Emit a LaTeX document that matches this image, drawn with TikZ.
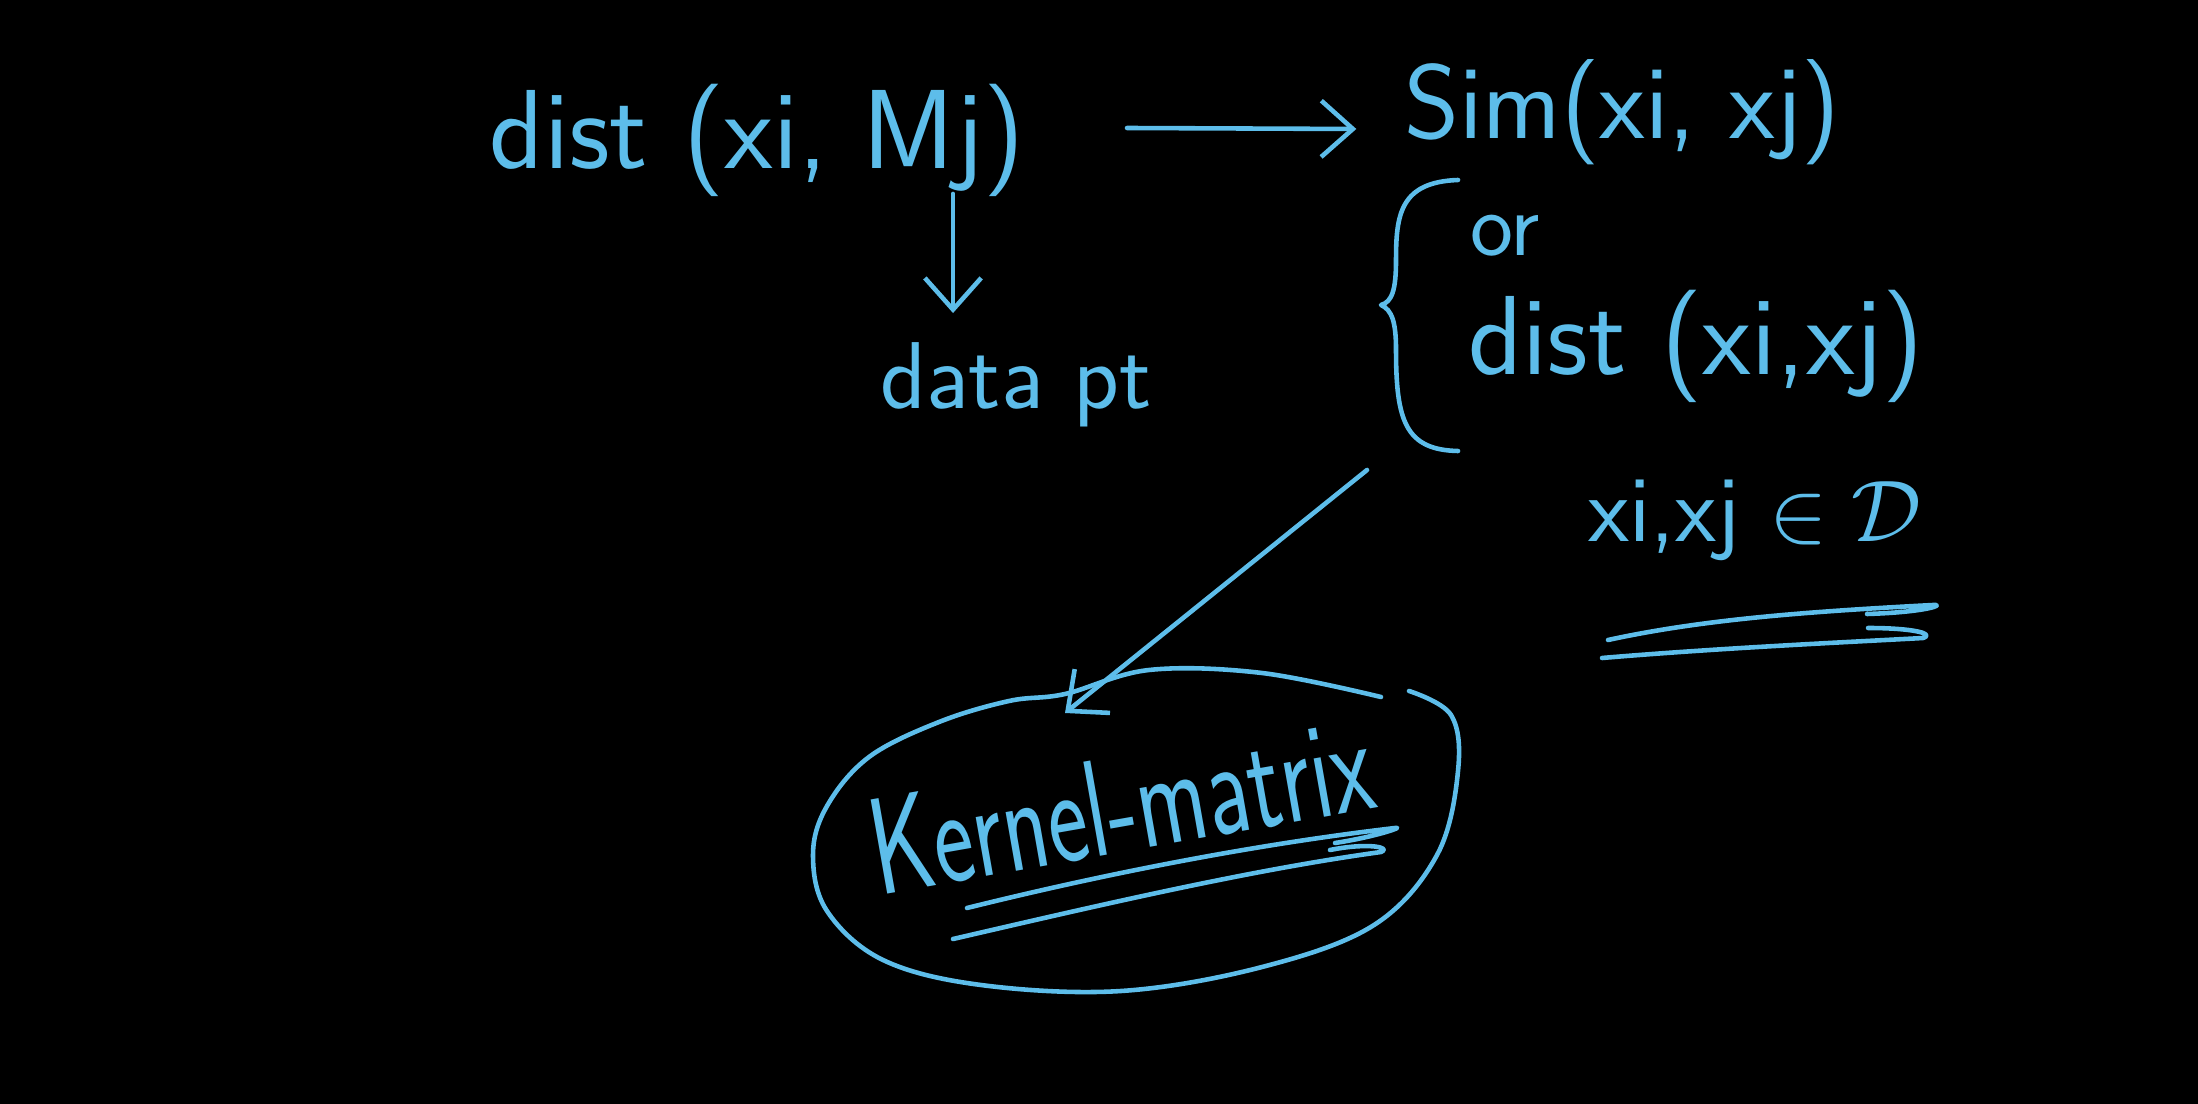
\documentclass[tikz,border=0pt]{standalone}
\usetikzlibrary{arrows.meta,calc}
\definecolor{chalk}{HTML}{5DBDEA}
\begin{document}
\begin{tikzpicture}[x=0.01cm,y=-0.01cm,
  ink/.style={draw=chalk,line width=1.3pt,line cap=round,line join=round},
  arr/.style={ink,-{Straight Barb[length=9pt,width=16pt]}},
  txt/.style={text=chalk,inner sep=2pt,font=\sffamily},
  f32/.style={font=\sffamily\fontsize{32}{38}\selectfont},
  f30/.style={font=\sffamily\fontsize{30}{36}\selectfont},
  f27/.style={font=\sffamily\fontsize{27}{32}\selectfont},
  f26/.style={font=\sffamily\fontsize{26}{31}\selectfont}]
\fill[black] (0,0) rectangle (2198,1104);
\useasboundingbox (0,0) rectangle (2198,1104);

\node[txt,f32] (d1) at (757,140) {dist (xi, Mj)};
\node[txt,f30] (sim) at (1622,112) {Sim(xi, xj)};
\node[txt,f27] (dp) at (1016,385) {data pt};
\node[txt,f26] (or) at (1505,236) {or};
\node[txt,f32] (d2) at (1696,346) {dist (xi,xj)};
\node[txt,f27] (set) at (1755,520) {xi,xj $\in\mathcal{D}$};
\node[txt,f27,rotate=10,yscale=1.45] (km) at (1121,805) {Kernel-matrix};

% connectors
\draw[arr] ($(d1.east)+(95,-12)$) -- ($(sim.west)+(-40,17)$);
\draw[arr] ($(d1.south)+(196,-10)$) -- ($(dp.north)+(-63,-22)$);
\coordinate (ls) at (1367,470);
\draw[arr] (ls) -- ($(km.center)+(-56,-92)$);

% brace
\draw[ink] (1458,180) .. controls (1400,182) and (1396,215) .. (1396,260)
  .. controls (1396,290) and (1392,302) .. (1381,305)
  .. controls (1392,310) and (1396,322) .. (1396,350)
  .. controls (1396,420) and (1405,450) .. (1458,451);

% underline under set
\draw[ink] (1608,640) .. controls (1700,620) and (1800,612) .. (1933,605)
  .. controls (1945,604) and (1930,612) .. (1867,614);
\draw[ink] (1602,658) .. controls (1720,648) and (1850,642) .. (1923,638)
  .. controls (1935,634) and (1915,628) .. (1868,628);

% blob around kernel matrix
\draw[ink] plot[smooth,tension=0.6] coordinates {(1381,697) (1262,673) (1149,670) (1065,694) (1009,701) (939,722) (869,757) (827,806) (813,855) (827,911) (883,960) (981,985) (1121,991) (1262,967) (1374,925) (1437,855) (1458,771) (1451,715) (1409,691)};

% underline under kernel matrix
\draw[ink] (967,908) .. controls (1100,875) and (1250,845) .. (1395,828)
  .. controls (1405,826) and (1380,836) .. (1335,843);
\draw[ink] (953,939) .. controls (1100,905) and (1250,870) .. (1381,852)
  .. controls (1392,848) and (1370,842) .. (1330,850);
\end{tikzpicture}
\end{document}
